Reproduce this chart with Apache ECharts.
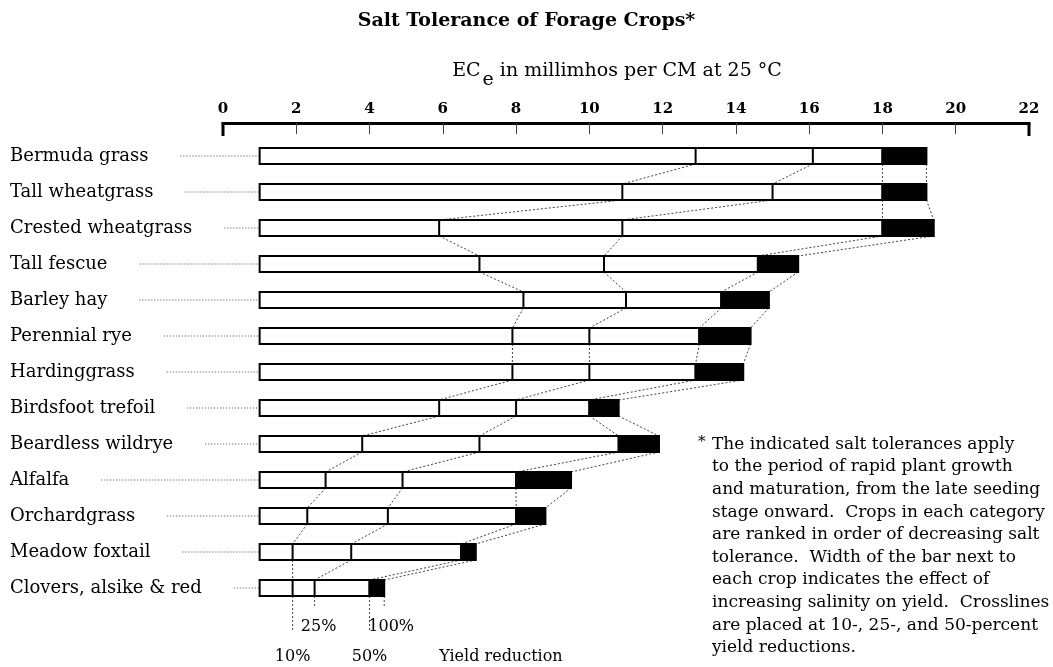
<!DOCTYPE html>
<html>
<head>
<meta charset="utf-8">
<title>Salt Tolerance of Forage Crops</title>
<script src="https://cdn.jsdelivr.net/npm/echarts@6/dist/echarts.min.js"></script>
<style>
  html, body { margin: 0; padding: 0; background: #fff; }
  #chart { width: 1053px; height: 667px; }
</style>
</head>
<body>
<div id="chart"></div>
<script>
// crops, ranked by decreasing salt tolerance
const crops = [
  'Bermuda grass', 'Tall wheatgrass', 'Crested wheatgrass', 'Tall fescue',
  'Barley hay', 'Perennial rye', 'Hardinggrass', 'Birdsfoot trefoil',
  'Beardless wildrye', 'Alfalfa', 'Orchardgrass', 'Meadow foxtail',
  'Clovers, alsike & red'
]
// ECe (mmho/cm) where each bar starts and where yield drops by 10/25/50/100 %
const barStart = [1, 1, 1, 1, 1, 1, 1, 1, 1, 1, 1, 1, 1]
const yield10  = [12.9, 10.9, 5.9, 7.0, 8.2, 7.9, 7.9, 5.9, 3.8, 2.8, 2.3, 1.9, 1.9]
const yield25  = [16.1, 15.0, 10.9, 10.4, 11.0, 10.0, 10.0, 8.0, 7.0, 4.9, 4.5, 3.5, 2.5]
const yield50  = [18.0, 18.0, 18.0, 14.6, 13.6, 13.0, 12.9, 10.0, 10.8, 8.0, 8.0, 6.5, 4.0]
const yield100 = [19.2, 19.2, 19.4, 15.7, 14.9, 14.4, 14.2, 10.8, 11.9, 9.5, 8.8, 6.9, 4.4]

const keyLabels = ['10%', '25%', '50%', '100%']
const keyTitle = 'Yield reduction'

const footnoteMark = '*'
const footnoteLines = [
  'The indicated salt tolerances apply',
  'to the period of rapid plant growth',
  'and maturation, from the late seeding',
  'stage onward.  Crops in each category',
  'are ranked in order of decreasing salt',
  'tolerance.  Width of the bar next to',
  'each crop indicates the effect of',
  'increasing salinity on yield.  Crosslines',
  'are placed at 10-, 25-, and 50-percent',
  'yield reductions.'
]

const SERIF = '"DejaVu Serif", "Liberation Serif", serif'
const LABEL_SIZE = 18
const LABEL_MARGIN = 213
const AXIS_OFFSET = 15

// measure label widths so the dotted leaders start just after the text
const ctx = document.createElement('canvas').getContext('2d')
ctx.font = LABEL_SIZE + 'px ' + SERIF
const labelWidth = crops.map(c => ctx.measureText(c).width)

const dotted = (x1, y1, x2, y2, dash) => ({
  type: 'line',
  shape: { x1, y1, x2, y2 },
  style: { stroke: '#444', lineWidth: 1, lineDash: dash || [2, 2] }
})

function renderRow(params, api) {
  const i = api.value(0)
  const band = api.size([0, 1])[1]
  const h = 16
  const [x0, yc] = api.coord([barStart[i], i])
  const vals = [yield10[i], yield25[i], yield50[i], yield100[i]]
  const xs = vals.map(v => api.coord([v, i])[0])
  const top = yc - h / 2
  const bottom = yc + h / 2
  const children = []

  // leader from label to bar
  const axisX = api.coord([0, i])[0]
  children.push(dotted(axisX - LABEL_MARGIN + labelWidth[i] + 32, yc, x0, yc, [1, 2]))

  if (i < crops.length - 1) {
    const nyTop = api.coord([0, i + 1])[1] - h / 2
    const next = [yield10[i + 1], yield25[i + 1], yield50[i + 1], yield100[i + 1]]
    next.forEach((v, k) => {
      children.push(dotted(xs[k], bottom, api.coord([v, i + 1])[0], nyTop))
    })
  } else {
    // yield reduction key under the last bar
    const drops = [36, 12, 36, 12]
    xs.forEach((x, k) => children.push(dotted(x, bottom, x, bottom + drops[k])))
    const txt = (text, x, y, align) => ({
      type: 'text',
      style: {
        text, x, y, align: align || 'center', verticalAlign: 'middle',
        fontFamily: SERIF, fontSize: 16, fill: '#000'
      }
    })
    children.push(txt(keyLabels[0], xs[0], bottom + 61))
    children.push(txt(keyLabels[1], xs[1] + 4, bottom + 31))
    children.push(txt(keyLabels[2], xs[2], bottom + 61))
    children.push(txt(keyLabels[3], xs[3] + 7, bottom + 31))
    children.push(txt(keyTitle, xs[3] + 55, bottom + 61, 'left'))
  }

  // bar body and black tail
  children.push({
    type: 'rect',
    shape: { x: x0, y: top, width: xs[2] - x0, height: h },
    style: { fill: '#fff', stroke: '#000', lineWidth: 2 }
  })
  children.push({
    type: 'rect',
    shape: { x: xs[2], y: top, width: xs[3] - xs[2], height: h },
    style: { fill: '#000', stroke: '#000', lineWidth: 2 }
  })
  ;[xs[0], xs[1]].forEach(x => children.push({
    type: 'line',
    shape: { x1: x, y1: top, x2: x, y2: bottom },
    style: { stroke: '#000', lineWidth: 2 }
  }))

  // heavy end marks on the scale
  if (i === 0) {
    const axisY = yc - band / 2 - AXIS_OFFSET
    ;[0, 22].forEach(v => {
      const x = api.coord([v, 0])[0]
      children.push({
        type: 'line',
        shape: { x1: x, y1: axisY - 1, x2: x, y2: axisY + 13 },
        style: { stroke: '#000', lineWidth: 3 }
      })
    })
  }

  return { type: 'group', children }
}

const chart = echarts.init(document.getElementById('chart'), null, { renderer: 'canvas' })

chart.setOption({
  animation: false,
  backgroundColor: '#fff',
  title: {
    text: 'Salt Tolerance of Forage Crops*',
    left: 'center',
    top: 7,
    textStyle: { fontFamily: SERIF, fontSize: 19, fontWeight: 'bold', color: '#000' }
  },
  grid: { left: 223, right: 24, top: 138, bottom: 61 },
  xAxis: {
    type: 'value',
    position: 'top',
    offset: AXIS_OFFSET,
    min: 0,
    max: 22,
    interval: 2,
    name: '{m|EC}{s|e}{m| in millimhos per CM at 25 °C}',
    nameLocation: 'middle',
    nameGap: 33,
    nameTextStyle: {
      color: '#000',
      fontFamily: SERIF,
      fontSize: 19,
      padding: [0, 18, 0, 0],
      rich: {
        m: { fontFamily: SERIF, fontSize: 19, color: '#000', verticalAlign: 'middle' },
        s: { fontFamily: SERIF, fontSize: 19, color: '#000', verticalAlign: 'top', padding: [19, 0, 0, 2] }
      }
    },
    axisLine: { show: true, lineStyle: { color: '#000', width: 3 } },
    axisTick: { show: true, inside: true, length: 11, lineStyle: { color: '#444', width: 1 } },
    axisLabel: { color: '#000', fontFamily: SERIF, fontSize: 15, fontWeight: 'bold', margin: 6 },
    splitLine: { show: false }
  },
  yAxis: {
    type: 'category',
    inverse: true,
    data: crops,
    axisLine: { show: false },
    axisTick: { show: false },
    splitLine: { show: false },
    axisLabel: {
      align: 'left',
      margin: LABEL_MARGIN,
      color: '#000',
      fontFamily: SERIF,
      fontSize: LABEL_SIZE
    }
  },
  series: [{
    type: 'custom',
    silent: true,
    clip: false,
    renderItem: renderRow,
    encode: { y: 0 },
    data: crops.map((c, i) => [i])
  }],
  graphic: [
    {
      type: 'text',
      left: 698,
      top: 435,
      style: { text: footnoteMark, fontFamily: SERIF, fontSize: 15, fill: '#000' }
    },
    {
      type: 'text',
      left: 712,
      top: 433,
      style: {
        text: footnoteLines.join('\n'),
        fontFamily: SERIF,
        fontSize: 17,
        lineHeight: 22.6,
        fill: '#000'
      }
    }
  ]
})
</script>
</body>
</html>
